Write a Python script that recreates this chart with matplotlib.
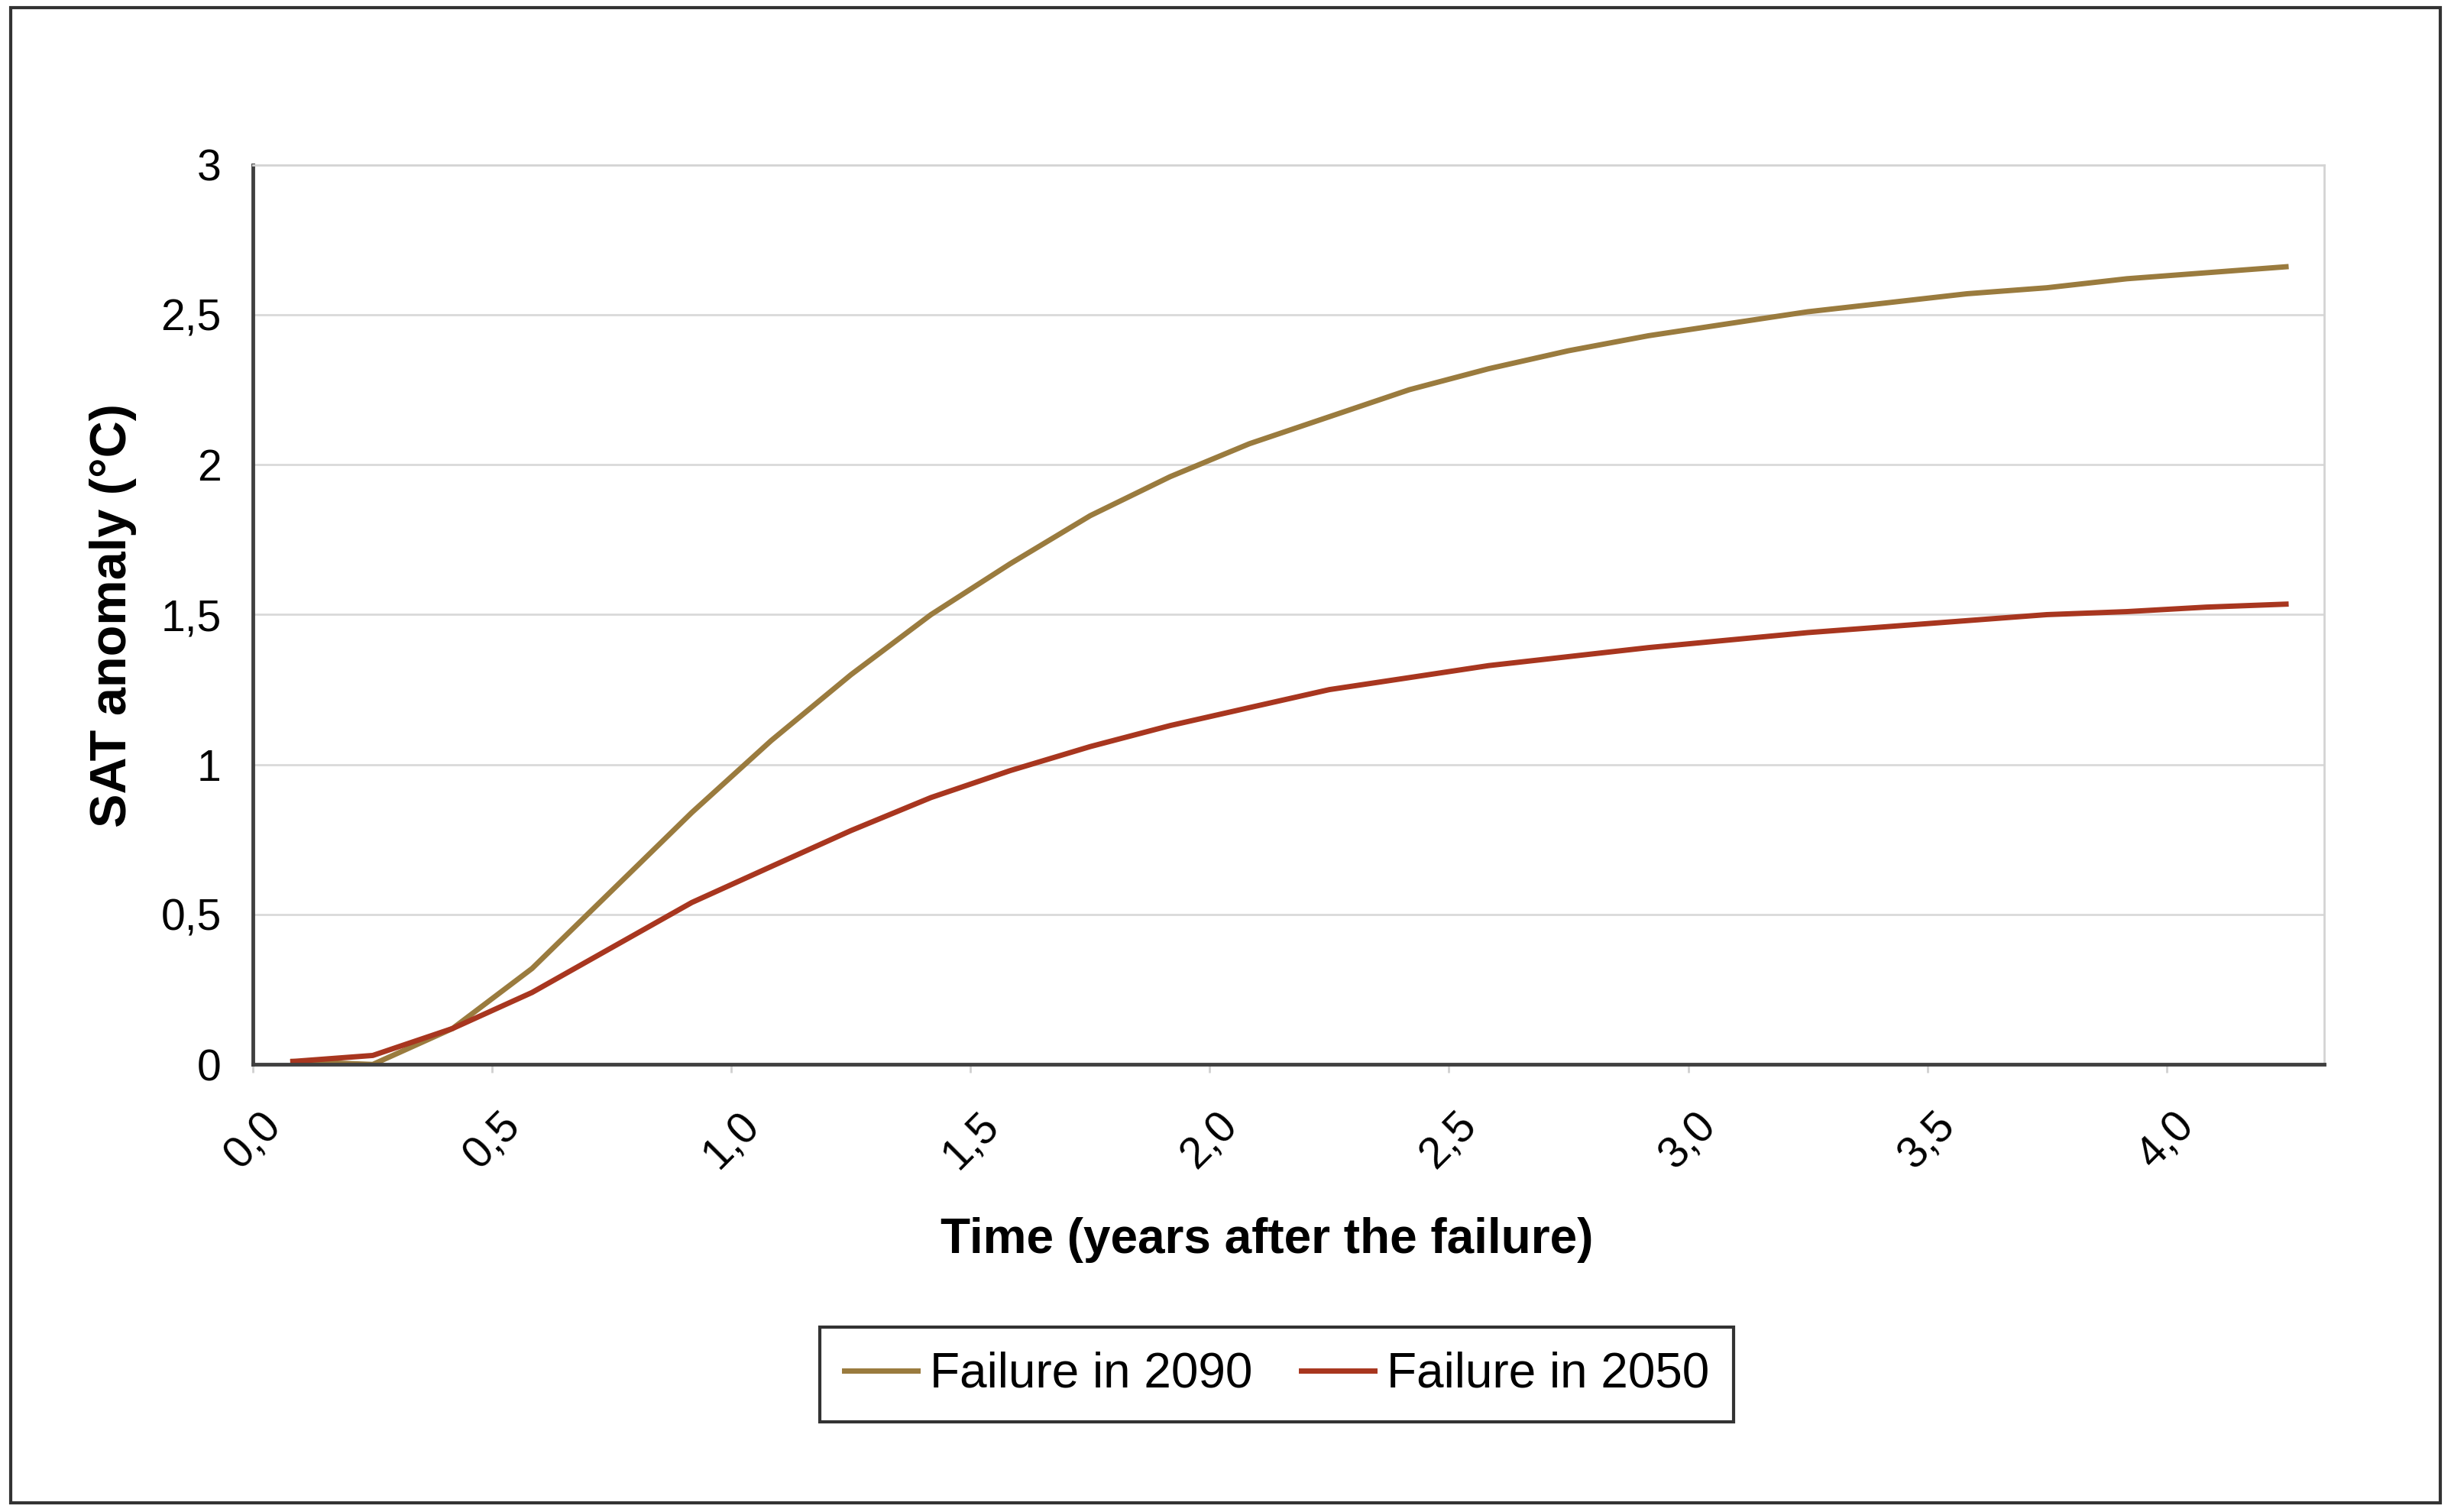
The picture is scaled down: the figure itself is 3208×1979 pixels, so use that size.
import matplotlib
matplotlib.use("Agg")
import matplotlib.pyplot as plt
from matplotlib.patches import Rectangle

plt.rcParams['font.family'] = ['Liberation Sans', 'DejaVu Sans']

# time of each model point (years after the failure)
years = [0.083, 0.25, 0.417, 0.583, 0.75, 0.917, 1.083, 1.25, 1.417, 1.583,
         1.75, 1.917, 2.083, 2.25, 2.417, 2.583, 2.75, 2.917, 3.083, 3.25,
         3.417, 3.583, 3.75, 3.917, 4.083, 4.25]

fail_2090 = [0.01, 0.0, 0.12, 0.32, 0.58, 0.84, 1.08, 1.30, 1.50, 1.67,
             1.83, 1.96, 2.07, 2.16, 2.25, 2.32, 2.38, 2.43, 2.47, 2.51,
             2.54, 2.57, 2.59, 2.62, 2.64, 2.66]

fail_2050 = [0.01, 0.03, 0.12, 0.24, 0.39, 0.54, 0.66, 0.78, 0.89, 0.98,
             1.06, 1.13, 1.19, 1.25, 1.29, 1.33, 1.36, 1.39, 1.415, 1.44,
             1.46, 1.48, 1.50, 1.51, 1.525, 1.535]

xticks = [0.0, 0.5, 1.0, 1.5, 2.0, 2.5, 3.0, 3.5, 4.0]
xlabels = ["0,0", "0,5", "1,0", "1,5", "2,0", "2,5", "3,0", "3,5", "4,0"]
yticks = [0, 0.5, 1, 1.5, 2, 2.5, 3]
ylabels = ["0", "0,5", "1", "1,5", "2", "2,5", "3"]

fig = plt.figure(figsize=(32.08, 19.79), dpi=100)
ax = fig.add_axes([0.1033, 0.296, 0.845, 0.595])

ax.plot(years, fail_2090, color="#9a7b3e", lw=5, label="Failure in 2090")
ax.plot(years, fail_2050, color="#a8361f", lw=5, label="Failure in 2050")

ax.set_xlim(0, 4.33)
ax.set_ylim(0, 3)
ax.set_xticks(xticks)
ax.set_xticklabels(xlabels, rotation=45, ha="center", va="top")
ax.set_yticks(yticks)
ax.set_yticklabels(ylabels)
ax.tick_params(axis="x", length=8, width=2, color="#d0d0d0", pad=30, labelsize=41)
ax.tick_params(axis="y", length=0, pad=30, labelsize=41)

ax.grid(axis="y", color="#d9d9d9", lw=2)
ax.set_axisbelow(True)
for s in ["left", "bottom"]:
    ax.spines[s].set_color("#404040")
    ax.spines[s].set_linewidth(3.5)
for s in ["top", "right"]:
    ax.spines[s].set_color("#d4d4d4")
    ax.spines[s].set_linewidth(2)

fig.text(0.517, 0.18, "Time (years after the failure)", ha="center", va="center",
         fontsize=46, fontweight="bold")
fig.text(0.046, 0.593, "SAT anomaly (°C)", ha="center", va="center",
         rotation=90, fontsize=48, fontweight="bold")

leg = fig.legend(loc="center", bbox_to_anchor=(0.521, 0.091), ncol=2,
                 fontsize=46, frameon=True, fancybox=False, edgecolor="black",
                 handlelength=1.5, handletextpad=0.25, columnspacing=1.0,
                 borderpad=0.5)
leg.get_frame().set_linewidth(3)

# outer frame around the whole chart
fig.patches.append(Rectangle((0.0045, 0.006), 0.991, 0.989, transform=fig.transFigure,
                             fill=False, edgecolor="#333333", lw=3))

fig.savefig("out.png", dpi=100)
